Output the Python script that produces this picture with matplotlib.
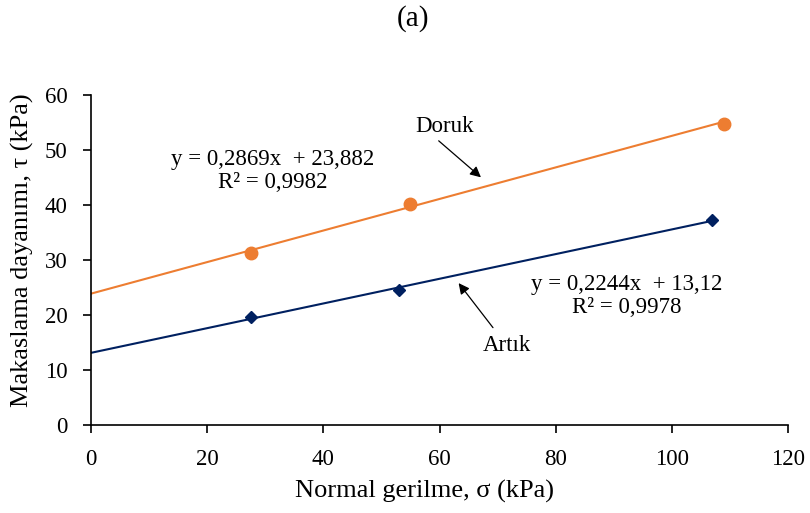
import matplotlib.pyplot as plt
import numpy as np

# Veriler
doruk_x = [27.5, 55.0, 109.0]
doruk_y = [31.3, 40.1, 54.7]
artik_x = [27.5, 53.0, 107.0]
artik_y = [19.6, 24.5, 37.3]

# Eğilim çizgisi katsayıları (eğim, kesişim)
doruk_fit = [0.2869, 23.882]
artik_fit = [0.2244, 13.12]

x_ticks = [0, 20, 40, 60, 80, 100, 120]
y_ticks = [0, 10, 20, 30, 40, 50, 60]

plt.rcParams['font.family'] = ['Liberation Serif', 'DejaVu Serif']

fig = plt.figure(figsize=(8.1, 5.13), dpi=100)
ax = fig.add_axes([91 / 810, 1 - 425 / 513, (788 - 91) / 810, (425 - 95) / 513])

orange = '#ED7D31'
navy = '#002060'

# Eğilim çizgileri 0'dan son noktaya kadar
xd = np.array([0, max(doruk_x)])
ax.plot(xd, doruk_fit[0] * xd + doruk_fit[1], color=orange, lw=1.5, zorder=2)
xa = np.array([0, max(artik_x)])
ax.plot(xa, artik_fit[0] * xa + artik_fit[1], color=navy, lw=1.5, zorder=2)

ax.plot(doruk_x, doruk_y, 'o', color=orange, ms=9, zorder=3)
ax.plot(artik_x, artik_y, 'D', color=navy, ms=6.5, zorder=3)

ax.set_xlim(0, 120)
ax.set_ylim(0, 60)
ax.set_xticks(x_ticks)
ax.set_yticks(y_ticks)
ax.tick_params(direction='out', length=6, width=1.2, labelsize=16.5, pad=11)
for s in ['top', 'right']:
    ax.spines[s].set_visible(False)
for s in ['left', 'bottom']:
    ax.spines[s].set_linewidth(1.2)

ax.set_xlabel('Normal gerilme, σ (kPa)', fontsize=19)
ax.xaxis.set_label_coords(0.479, -0.166)
ax.set_ylabel('Makaslama dayanımı, τ (kPa)', fontsize=19)
ax.yaxis.set_label_coords(-0.082, 0.53)
fig.text(413 / 810, 1 - 19 / 513, '(a)', ha='center', va='center', fontsize=21)

# Denklemler
ax.text(31.3, 46.2, 'y = 0,2869x  + 23,882\nR² = 0,9982', ha='center', va='center',
        fontsize=16.5, linespacing=1.15)
ax.text(92.3, 23.5, 'y = 0,2244x  + 13,12\nR² = 0,9978', ha='center', va='center',
        fontsize=16.5, linespacing=1.15)

# Etiketler ve oklar
arrow = dict(arrowstyle='-|>', color='black', lw=0.9, mutation_scale=16)
ax.annotate('', xy=(67.5, 44.7), xytext=(59.5, 52.0), arrowprops=arrow)
ax.text(60.8, 54.2, 'Doruk', ha='center', va='center', fontsize=16.5)
ax.annotate('', xy=(63.0, 26.2), xytext=(69.5, 17.3), arrowprops=arrow)
ax.text(71.6, 14.4, 'Artık', ha='center', va='center', fontsize=16.5)

fig.savefig('out.png', dpi=100)
